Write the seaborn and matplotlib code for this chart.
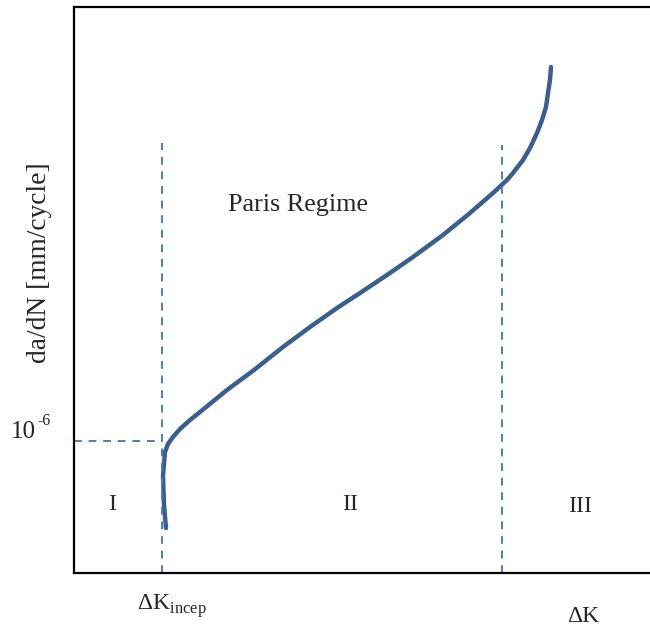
import matplotlib
matplotlib.use("Agg")
import matplotlib.pyplot as plt
import pandas as pd
import seaborn as sns

# crack growth curve (arbitrary units: delta K along x, log da/dN along y)
curve_dk = [92, 90, 89, 89, 91, 94, 99, 106, 116, 126, 153, 180, 209, 236,
            263, 286, 313, 339, 369, 396, 419, 433, 439, 449, 456, 463, 468,
            472, 474, 476, 477]
curve_rate = [45, 68, 88, 106, 121, 129, 136, 144, 153, 161, 183, 203, 226,
              246, 265, 280, 298, 316, 338, 360, 380, 393, 400, 413, 425, 440,
              453, 466, 480, 493, 506]

# regime boundaries
dk_incep = 88
dk_upper = 428
rate_threshold = 132
boundary_top = [430, 428]

regime_labels = ["I", "II", "III"]
regime_x = [38, 276, 506]
regime_y = [68, 68, 66]


def main():
    sns.set_style("white")
    plt.rcParams["font.family"] = ["Liberation Serif", "DejaVu Serif"]
    plt.rcParams["mathtext.fontset"] = "custom"
    plt.rcParams["mathtext.rm"] = "Liberation Serif"

    fig = plt.figure(figsize=(6.5, 6.3), dpi=100)
    ax = fig.add_axes([74 / 650, 57 / 630, 576 / 650, 566 / 630])

    df = pd.DataFrame({"dk": curve_dk, "rate": curve_rate})
    sns.lineplot(data=df, x="dk", y="rate", sort=False, ax=ax,
                 color="#3a5f8f", linewidth=3.2, solid_capstyle="round",
                 solid_joinstyle="round")

    dash_kw = dict(color="#4a7ec2", linewidth=1.4, dashes=(4, 3.5))
    ax.plot([dk_incep, dk_incep], [0, boundary_top[0]], **dash_kw)
    ax.plot([dk_upper, dk_upper], [0, boundary_top[1]], **dash_kw)
    ax.plot([0, dk_incep], [rate_threshold, rate_threshold], **dash_kw)

    ax.set_xlim(0, 576)
    ax.set_ylim(0, 566)
    ax.set_xticks([])
    ax.set_yticks([])
    ax.set_xlabel("")
    ax.set_ylabel("")
    ax.spines["right"].set_visible(False)
    for s in ["left", "top", "bottom"]:
        ax.spines[s].set_color("black")
        ax.spines[s].set_linewidth(1.6)

    for lab, x, y in zip(regime_labels, regime_x, regime_y):
        ax.text(x, y, lab, ha="center", va="center", fontsize=17)

    ax.text(223.5, 368, "Paris Regime", ha="center", va="center", fontsize=18.8)

    fig.text(40 / 650, 1 - 263 / 630, "da/dN [mm/cycle]", rotation=90,
             ha="center", va="center", fontsize=19.8)
    fig.text(11 / 650, 1 - 432 / 630, "10", ha="left", va="center",
             fontsize=18)
    fig.text(37 / 650, 1 - 421 / 630, "-6", ha="left", va="center",
             fontsize=11.5)
    fig.text(137 / 650, 1 - 606 / 630, r"ΔK$_{\mathrm{incep}}$", ha="left",
             va="center", fontsize=17)
    fig.text(583 / 650, 1 - 617 / 630, "ΔK", ha="center", va="center",
             fontsize=17)

    fig.savefig("out.png", dpi=100)


if __name__ == '__main__':
    main()
